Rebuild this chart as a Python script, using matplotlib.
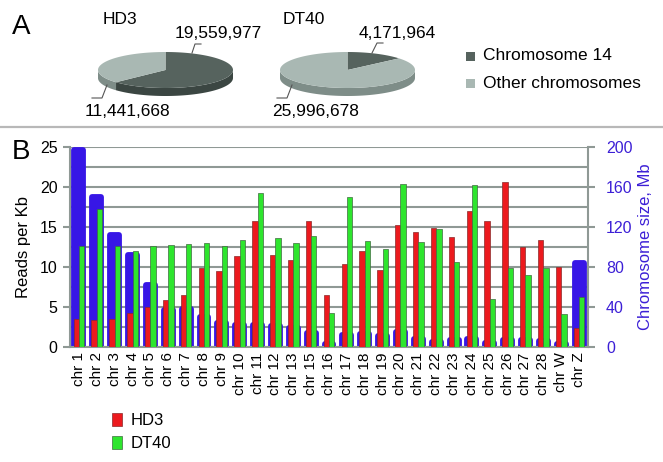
import numpy as np
import matplotlib
matplotlib.use("Agg")
import matplotlib.pyplot as plt
from matplotlib.patches import Polygon, Rectangle, Patch

plt.rcParams['font.family'] = ['Liberation Sans', 'DejaVu Sans']

# panel A data
pie_names = ['HD3', 'DT40']
chr14_reads = [19559977, 4171964]
other_reads = [11441668, 25996678]

# panel B data
chroms = ['chr 1', 'chr 2', 'chr 3', 'chr 4', 'chr 5', 'chr 6', 'chr 7', 'chr 8', 'chr 9',
          'chr 10', 'chr 11', 'chr 12', 'chr 13', 'chr 15', 'chr 16', 'chr 17', 'chr 18',
          'chr 19', 'chr 20', 'chr 21', 'chr 22', 'chr 23', 'chr 24', 'chr 25', 'chr 26',
          'chr 27', 'chr 28', 'chr W', 'chr Z']
hd3 = [3.45, 3.4, 3.45, 4.25, 5.0, 5.8, 6.5, 9.9, 9.5, 11.3, 15.7, 11.5, 10.9, 15.7, 6.5,
       10.4, 12.0, 9.6, 15.2, 14.3, 14.8, 13.7, 17.0, 15.7, 20.6, 12.5, 13.3, 9.95, 2.4]
dt40 = [12.6, 17.3, 12.6, 12.0, 12.6, 12.7, 12.9, 13.0, 12.6, 13.4, 19.25, 13.6, 13.0, 13.9, 4.2,
        18.8, 13.2, 12.2, 20.4, 13.1, 14.75, 10.6, 20.3, 5.95, 9.8, 9.0, 9.8, 4.1, 6.2]
size_mb = [197, 150, 112, 92, 62, 37, 38, 30, 24, 22, 22, 21, 19, 14, 3, 12, 13, 11, 15,
           8, 5, 7, 8, 4, 7, 7, 6, 3, 84]

blue = '#3716e6'
red = '#ec1a1e'
green = '#2ee52e'
gridc = '#8f9995'
dark = '#56635e'
light = '#a9b8b3'
dark_side = '#3b4642'
light_side = '#7e8d88'

fig = plt.figure(figsize=(6.63, 4.62), dpi=100)

# overlay in pixel coords for panel A
top = fig.add_axes([0, 0, 1, 1])
top.set_xlim(0, 663)
top.set_ylim(462, 0)
top.axis('off')


def front_parts(t1, t2):
    parts = []
    for lo, hi in [(-540, -360), (-180, 0), (180, 360)]:
        a = max(t1, lo)
        b = min(t2, hi)
        if b > a:
            parts.append((a, b))
    return parts


def pie3d(cx, cy, a, b, depth, vals):
    fr = np.array(vals) / np.sum(vals)
    start = 90.0
    cols = [(dark, dark_side), (light, light_side)]
    slices = []
    for f, c in zip(fr, cols):
        end = start - 360 * f
        slices.append((end, start, c))
        start = end
    for t1, t2, c in slices:
        for p1, p2 in front_parts(t1, t2):
            t = np.radians(np.linspace(p1, p2, 80))
            xs = cx + a * np.cos(t)
            ys = cy - b * np.sin(t)
            pts = np.concatenate([np.column_stack([xs, ys]),
                                  np.column_stack([xs[::-1], ys[::-1] + depth])])
            top.add_patch(Polygon(pts, closed=True, facecolor=c[1], edgecolor='none'))
    for t1, t2, c in slices:
        t = np.radians(np.linspace(t1, t2, 150))
        pts = np.column_stack([cx + a * np.cos(t), cy - b * np.sin(t)])
        pts = np.vstack([[cx, cy], pts])
        top.add_patch(Polygon(pts, closed=True, facecolor=c[0], edgecolor='none'))


pie3d(165.5, 70, 67.5, 18, 8, [chr14_reads[0], other_reads[0]])
pie3d(347.5, 70, 67.5, 18, 8, [chr14_reads[1], other_reads[1]])

fs = 12.5
top.text(12, 27, 'A', fontsize=20, va='center', ha='left')
top.text(103, 20, pie_names[0], fontsize=fs, va='center')
top.text(283, 20, pie_names[1], fontsize=fs, va='center')
top.text(175, 33, f'{chr14_reads[0]:,}', fontsize=fs, va='center')
top.text(85, 111, f'{other_reads[0]:,}', fontsize=fs, va='center')
top.text(359, 33, f'{chr14_reads[1]:,}', fontsize=fs, va='center')
top.text(272, 111, f'{other_reads[1]:,}', fontsize=fs, va='center')
lc = '#555555'
top.plot([192, 195, 201], [53, 44, 44], color=lc, lw=0.8)
top.plot([107, 102, 92], [85, 98, 98], color=lc, lw=0.8)
top.plot([372, 377, 383], [53, 43, 43], color=lc, lw=0.8)
top.plot([292, 287, 277], [85, 98, 98], color=lc, lw=0.8)

top.add_patch(Rectangle((466, 52), 9, 9, facecolor=dark, edgecolor='none'))
top.add_patch(Rectangle((466, 79), 9, 9, facecolor=light, edgecolor='none'))
top.text(483, 56, 'Chromosome 14', fontsize=fs, va='center')
top.text(483, 83, 'Other chromosomes', fontsize=fs, va='center')

top.plot([0, 663], [127, 127], color='#b8b8b8', lw=1.6)
top.text(12, 152, 'B', fontsize=20, va='center', ha='left')

# panel B
ax = fig.add_axes([70 / 663, 1 - 346.7 / 462, 518 / 663, 199.7 / 462])
ax2 = ax.twinx()
x = np.arange(len(chroms))

ax.bar(x, size_mb, width=0.5, color=blue, edgecolor=blue, linewidth=4.2,
       joinstyle='round', zorder=2)
ax.set_ylim(0, 200)
ax.set_xlim(-0.5, len(chroms) - 0.5)
ax.set_yticks(np.arange(0, 201, 40))
ax.set_yticks(np.arange(0, 201, 20), minor=True)
ax.grid(True, axis='y', which='both', color=gridc, lw=1.5, zorder=0)
ax.set_axisbelow(True)
ax.yaxis.tick_right()
ax.yaxis.set_label_position('right')
ax.tick_params(axis='y', which='major', direction='out', length=5, width=1.5, color=gridc,
               labelcolor='#3c1fd6', labelsize=11.5, pad=8, left=False, labelleft=False,
               right=True, labelright=True)
ax.tick_params(axis='y', which='minor', length=0)
ax.set_ylabel('Chromosome size, Mb', color='#3c1fd6', fontsize=12, labelpad=4)
ax.set_xticks(x)
ax.set_xticklabels(chroms, rotation=90, fontsize=11)
ax.tick_params(axis='x', length=0, pad=4)
for s in ['left', 'right', 'bottom']:
    ax.spines[s].set_color(gridc)
    ax.spines[s].set_linewidth(1.5)
ax.spines['top'].set_visible(False)

ax2.bar(x - 0.15, hd3, width=0.3, color=red, edgecolor='#8a2a2a', linewidth=0.5, zorder=3)
ax2.bar(x + 0.15, dt40, width=0.3, color=green, edgecolor='#3f6a3f', linewidth=0.5, zorder=3)
ax2.set_ylim(0, 25)
ax2.set_yticks(np.arange(0, 26, 5))
ax2.yaxis.tick_left()
ax2.yaxis.set_label_position('left')
ax2.tick_params(axis='y', direction='out', length=5, width=1.5, color=gridc, labelsize=11.5,
                pad=4, left=True, labelleft=True, right=False, labelright=False)
ax2.set_ylabel('Reads per Kb', fontsize=12, labelpad=6)
for s in ax2.spines.values():
    s.set_visible(False)

handles = [Patch(facecolor=red, edgecolor='#8a2a2a', lw=0.5),
           Patch(facecolor=green, edgecolor='#3f6a3f', lw=0.5)]
fig.legend(handles, ['HD3', 'DT40'], loc='center left', bbox_to_anchor=(104 / 663, 1 - 432 / 462),
           frameon=False, fontsize=12, handlelength=0.6, handleheight=0.8, handletextpad=0.5,
           labelspacing=0.45, borderpad=0)

fig.savefig('out.png', dpi=100)
